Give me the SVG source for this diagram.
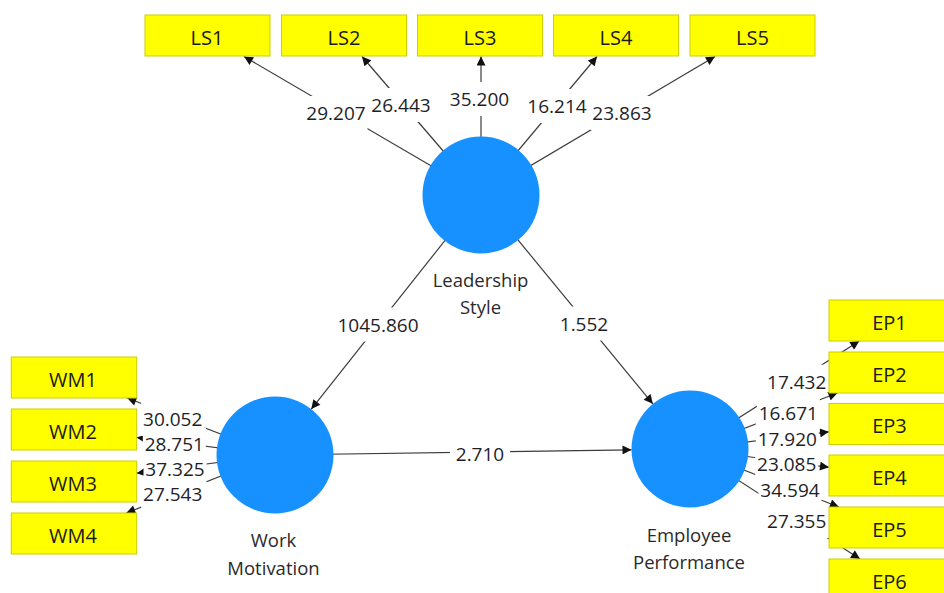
<svg xmlns="http://www.w3.org/2000/svg" width="944" height="593" viewBox="0 0 944 593">
<defs>
<marker id="arr" viewBox="0 0 10 10" refX="10" refY="5" markerWidth="10" markerHeight="9" markerUnits="userSpaceOnUse" orient="auto">
<path d="M0,0 L10,5 L0,10 z" fill="#111"/>
</marker>
<style>
.ln{stroke:#3c3c3c;stroke-width:1.2;fill:none;marker-end:url(#arr)}
.bg{fill:#fff}
.num{font-family:"Open Sans","Noto Sans","DejaVu Sans",sans-serif;font-size:19px;fill:#1e1e28;text-anchor:middle}
.box{fill:#ffff00;stroke:#cdcd00;stroke-width:1}
.blab{font-family:"Open Sans","Noto Sans","DejaVu Sans",sans-serif;font-size:20px;fill:#1a1a1a;text-anchor:middle}
.lv{fill:#1691ff}
.nlab{font-family:"Open Sans","Noto Sans","DejaVu Sans",sans-serif;font-size:18.5px;fill:#2a2a2a;text-anchor:middle}
</style>
</defs>
<rect width="944" height="593" fill="#fff"/>
<g id="connectors">
<line class="ln" x1="481" y1="195" x2="244" y2="56.5"/>
<line class="ln" x1="481" y1="195" x2="362" y2="56.5"/>
<line class="ln" x1="481" y1="195" x2="481" y2="56.5"/>
<line class="ln" x1="481" y1="195" x2="597" y2="56.5"/>
<line class="ln" x1="481" y1="195" x2="715" y2="56.5"/>
<line class="ln" x1="275" y1="455" x2="127.3" y2="398"/>
<line class="ln" x1="275" y1="455" x2="136.7" y2="437.5"/>
<line class="ln" x1="275" y1="455" x2="136.7" y2="473.2"/>
<line class="ln" x1="275" y1="455" x2="126.3" y2="513"/>
<line class="ln" x1="690" y1="449" x2="859.3" y2="341"/>
<line class="ln" x1="690" y1="449" x2="837.5" y2="393"/>
<line class="ln" x1="690" y1="449" x2="829" y2="431.8"/>
<line class="ln" x1="690" y1="449" x2="829" y2="467.3"/>
<line class="ln" x1="690" y1="449" x2="838.9" y2="507"/>
<line class="ln" x1="690" y1="449" x2="860" y2="559"/>
<line class="ln" x1="481" y1="195" x2="311.3" y2="409.1"/>
<line class="ln" x1="481" y1="195" x2="652.8" y2="403.8"/>
<line class="ln" x1="275" y1="455" x2="631.5" y2="449.8"/>
<g id="labels">
<rect class="bg" x="304.5" y="96" width="63" height="34"/><text class="num" x="336" y="119.8">29.207</text>
<rect class="bg" x="369.5" y="88" width="63" height="34"/><text class="num" x="401" y="111.8">26.443</text>
<rect class="bg" x="448" y="82" width="63" height="34"/><text class="num" x="479.5" y="105.8">35.200</text>
<rect class="bg" x="525.5" y="89" width="63" height="34"/><text class="num" x="557" y="112.8">16.214</text>
<rect class="bg" x="590.5" y="96" width="63" height="34"/><text class="num" x="622" y="119.8">23.863</text>
<rect class="bg" x="334" y="307.5" width="88" height="34"/><text class="num" x="378" y="331.8">1045.860</text>
<rect class="bg" x="556" y="306.5" width="56" height="34"/><text class="num" x="584" y="330.8">1.552</text>
<rect class="bg" x="450" y="437" width="60" height="34"/><text class="num" x="480" y="460.8">2.710</text>
<rect class="bg" x="141.2" y="402" width="63" height="34"/><text class="num" x="172.7" y="425.8">30.052</text>
<rect class="bg" x="142.8" y="427.3" width="63" height="34"/><text class="num" x="174.3" y="451">28.751</text>
<rect class="bg" x="143.5" y="452.3" width="63" height="34"/><text class="num" x="175" y="476">37.325</text>
<rect class="bg" x="141.2" y="477.3" width="63" height="34"/><text class="num" x="172.7" y="501">27.543</text>
<rect class="bg" x="766.5" y="364.7" width="59" height="32"/><text class="num" x="796.7" y="388.5">17.432</text>
<rect class="bg" x="756.8" y="396.3" width="63" height="34"/><text class="num" x="788.3" y="420">16.671</text>
<rect class="bg" x="755.8" y="422.3" width="63" height="34"/><text class="num" x="787.3" y="446">17.920</text>
<rect class="bg" x="755.2" y="447" width="63" height="34"/><text class="num" x="786.7" y="470.8">23.085</text>
<rect class="bg" x="758.5" y="473" width="63" height="34"/><text class="num" x="790" y="496.8">34.594</text>
<rect class="bg" x="765.2" y="504" width="63" height="34"/><text class="num" x="796.7" y="527.8">27.355</text>
</g>
</g>
<g id="node-LS1"><rect class="box" x="145" y="15" width="125" height="41"/><text class="blab" x="207" y="44.5">LS1</text></g>
<g id="node-LS2"><rect class="box" x="281.5" y="15" width="125" height="41"/><text class="blab" x="344" y="44.5">LS2</text></g>
<g id="node-LS3"><rect class="box" x="417.5" y="15" width="125" height="41"/><text class="blab" x="480" y="44.5">LS3</text></g>
<g id="node-LS4"><rect class="box" x="553.5" y="15" width="125" height="41"/><text class="blab" x="616" y="44.5">LS4</text></g>
<g id="node-LS5"><rect class="box" x="690" y="15" width="125" height="41"/><text class="blab" x="752.5" y="44.5">LS5</text></g>
<g id="node-WM1"><rect class="box" x="11.3" y="357" width="125.4" height="41"/><text class="blab" x="73" y="386.5">WM1</text></g>
<g id="node-WM2"><rect class="box" x="11.3" y="409" width="125.4" height="41"/><text class="blab" x="73" y="438.5">WM2</text></g>
<g id="node-WM3"><rect class="box" x="11.3" y="461" width="125.4" height="41"/><text class="blab" x="73" y="490.5">WM3</text></g>
<g id="node-WM4"><rect class="box" x="11.3" y="513" width="125.4" height="41"/><text class="blab" x="73" y="542.5">WM4</text></g>
<g id="node-EP1"><rect class="box" x="829" y="300" width="125" height="41"/><text class="blab" x="889.5" y="329.5">EP1</text></g>
<g id="node-EP2"><rect class="box" x="829" y="352" width="125" height="41"/><text class="blab" x="889.5" y="381.5">EP2</text></g>
<g id="node-EP3"><rect class="box" x="829" y="403.5" width="125" height="41"/><text class="blab" x="889.5" y="433">EP3</text></g>
<g id="node-EP4"><rect class="box" x="829" y="455" width="125" height="41"/><text class="blab" x="889.5" y="484.5">EP4</text></g>
<g id="node-EP5"><rect class="box" x="829" y="507" width="125" height="41"/><text class="blab" x="889.5" y="536.5">EP5</text></g>
<g id="node-EP6"><rect class="box" x="829" y="559" width="125" height="41"/><text class="blab" x="889.5" y="588.5">EP6</text></g>
<g id="node-LS"><circle class="lv" cx="481" cy="195" r="58.5"/><text class="nlab" x="480.5" y="286.5">Leadership</text><text class="nlab" x="480.5" y="314">Style</text></g>
<g id="node-WM"><circle class="lv" cx="275" cy="455" r="58.5"/><text class="nlab" x="273.5" y="546.7">Work</text><text class="nlab" x="273.5" y="575">Motivation</text></g>
<g id="node-EP"><circle class="lv" cx="690" cy="449" r="58.5"/><text class="nlab" x="689" y="541.7">Employee</text><text class="nlab" x="689" y="569.3">Performance</text></g>
</svg>
